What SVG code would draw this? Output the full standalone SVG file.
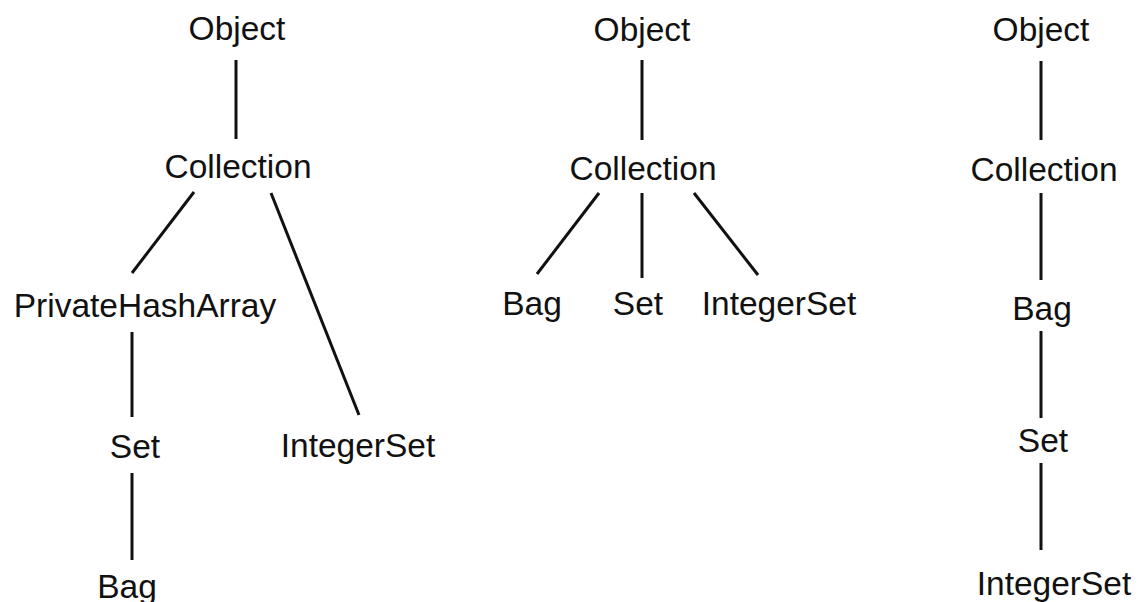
<svg xmlns="http://www.w3.org/2000/svg" width="1143" height="602" viewBox="0 0 1143 602">
  <style>
    .lbl { font-family: "Liberation Sans", Arial, sans-serif; font-size: 33.5px; fill: #111; text-anchor: middle; }
    .edge { stroke: #111; stroke-width: 3; fill: none; stroke-linecap: butt; }
  </style>
  <rect width="1143" height="602" fill="#fff"/>

  <!-- connectors -->
  <g id="connectors" class="edge">
    <!-- hierarchy A -->
    <line x1="236" y1="60" x2="236" y2="139"/>
    <line x1="194" y1="192" x2="132" y2="273"/>
    <line x1="271" y1="193" x2="359" y2="415"/>
    <line x1="132" y1="332" x2="132" y2="417"/>
    <line x1="132" y1="473" x2="132" y2="560"/>
    <!-- hierarchy B -->
    <line x1="642" y1="60" x2="642" y2="140"/>
    <line x1="599" y1="193" x2="537" y2="274"/>
    <line x1="642" y1="193" x2="642" y2="278"/>
    <line x1="694" y1="193" x2="758" y2="275"/>
    <!-- hierarchy C -->
    <line x1="1041" y1="61" x2="1041" y2="140"/>
    <line x1="1041" y1="193" x2="1041" y2="280"/>
    <line x1="1041" y1="331" x2="1041" y2="418"/>
    <line x1="1041" y1="463" x2="1041" y2="550"/>
  </g>

  <!-- hierarchy A -->
  <g id="a-object"><text class="lbl" x="237" y="40">Object</text></g>
  <g id="a-collection"><text class="lbl" x="238" y="178">Collection</text></g>
  <g id="a-privatehasharray"><text class="lbl" x="145" y="317">PrivateHashArray</text></g>
  <g id="a-set"><text class="lbl" x="135" y="458">Set</text></g>
  <g id="a-integerset"><text class="lbl" x="358" y="457">IntegerSet</text></g>
  <g id="a-bag"><text class="lbl" x="127" y="598">Bag</text></g>

  <!-- hierarchy B -->
  <g id="b-object"><text class="lbl" x="642" y="41">Object</text></g>
  <g id="b-collection"><text class="lbl" x="643" y="180">Collection</text></g>
  <g id="b-bag"><text class="lbl" x="532" y="315">Bag</text></g>
  <g id="b-set"><text class="lbl" x="638" y="315">Set</text></g>
  <g id="b-integerset"><text class="lbl" x="779" y="315">IntegerSet</text></g>

  <!-- hierarchy C -->
  <g id="c-object"><text class="lbl" x="1041" y="41">Object</text></g>
  <g id="c-collection"><text class="lbl" x="1044" y="181">Collection</text></g>
  <g id="c-bag"><text class="lbl" x="1042" y="320">Bag</text></g>
  <g id="c-set"><text class="lbl" x="1043" y="452">Set</text></g>
  <g id="c-integerset"><text class="lbl" x="1054" y="595">IntegerSet</text></g>
</svg>
